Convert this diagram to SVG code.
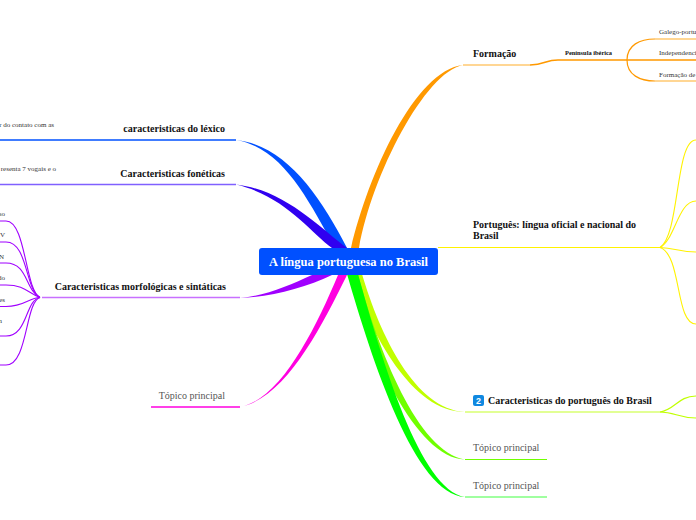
<svg xmlns="http://www.w3.org/2000/svg" width="696" height="520" viewBox="0 0 696 520">
<style>
text{font-family:"Liberation Serif","Times New Roman",serif;fill:#111}
.m{font-weight:bold;font-size:10px}
.t{font-size:10px;fill:#555}
.s{font-size:7px;fill:#333}
.b{font-weight:bold;font-size:6.4px}
.l{fill:none;stroke-width:1.2}
.h{fill:none;stroke-width:1.6}
</style>
<g id="connectors">
<path fill="#ff9900" d="M351 248C368 175 415 70 463 65C425 72 372 175 359 248Z"/>
<path class="h" stroke="#ffc870" d="M463 65H530"/>
<path class="h" stroke="#ff9900" d="M530 65C545 65 545 60 558 60H696"/>
<path class="l" stroke="#ff9900" d="M627 60C627 45 640 39 655 39"/>
<path class="h" stroke="#ffc870" d="M655 39H696"/>
<path class="l" stroke="#ff9900" d="M627 60C627 75 640 81 655 81"/>
<path class="h" stroke="#ffc870" d="M655 81H696"/>
<g fill="none" stroke="#fff200" stroke-width="1.1">
<path d="M438 247.500H660"/>
<path d="M660 247.500C680 235 675 140 696 140"/>
<path d="M660 247.500C675 240 678 201 696 201"/>
<path d="M660 247.500C675 248 680 252 696 252"/>
<path d="M660 247.500C682 255 675 324 696 324"/>
</g>
<path fill="#c0ff00" d="M350 274C372 335 412 412 465 412C415 409 380 335 362 274Z"/>
<path class="h" stroke="#d8ff70" d="M465 412H660"/>
<path class="l" stroke="#c0ff00" d="M660 412C675 410 678 396 696 396"/>
<path class="l" stroke="#c0ff00" d="M660 412C675 412 678 418 696 418"/>
<path fill="#70ff00" d="M349 274C368 350 415 458 465 459.500C418 452 378 350 358 274Z"/>
<path class="l" stroke="#70ff00" d="M465 459.500H547"/>
<path fill="#00ff00" d="M347 274C372 360 415 495 465 497C420 490 382 360 358 274Z"/>
<path class="h" stroke="#80ff80" d="M465 497H547"/>
<path fill="#0050ff" d="M347 248C320 195 285 145 236 140C283 148 308 200 335 248Z"/>
<path class="h" stroke="#0050ff" d="M0 140H236"/>
<path fill="#3000f0" d="M347 248C320 228 285 190 236 184.500C285 196 310 232 332 248Z"/>
<path class="h" stroke="#8060ff" d="M0 184.500H236"/>
<path fill="#a000ff" d="M332 275C305 288 270 297 240 298C265 296 290 285 312 275Z"/>
<path class="h" stroke="#c870ff" d="M42 297.500H240"/>
<g fill="none" stroke="#a000ff" stroke-width="1.1">
<path d="M40 297.500C25 290 26 221 6 221H0"/>
<path d="M40 297.500C25 290 28 242 6 242H0"/>
<path d="M40 297.500C25 290 28 263 6 263H0"/>
<path d="M40 297.500C28 293 25 285 6 285H0"/>
<path d="M40 297.500C28 298 25 306.500 6 306.500H0"/>
<path d="M40 297.500C25 300 28 336 6 336H0"/>
<path d="M40 297.500C25 302 28 365 6 365H0"/>
</g>
<path fill="#ff00e0" d="M338 275C315 330 280 400 240 407C285 398 320 330 347 275Z"/>
<path class="h" stroke="#ff00e0" d="M151 407H240"/>
</g>
<g id="root">
<rect x="259" y="248" width="179" height="27" rx="3" fill="#0050ff"/>
<text x="348.500" y="266" text-anchor="middle" font-size="12.500" font-weight="bold" style="fill:#fff">A língua portuguesa no Brasil</text>
</g>
<g id="formacao"><text class="m" x="473" y="57">Formação</text></g>
<g id="peninsula"><text class="b" x="565" y="55">Península ibérica</text></g>
<g id="galego"><text class="s" x="659" y="34">Galego-portu</text></g>
<g id="independencia"><text class="s" x="659" y="55">Independenci</text></g>
<g id="formacao-de"><text class="s" x="659" y="77">Formação de</text></g>
<g id="lexico"><text class="m" x="225" y="132" text-anchor="end">caracteristicas do léxico</text>
<text class="s" x="54" y="127" text-anchor="end">r do contato com as</text></g>
<g id="foneticas"><text class="m" x="225" y="177" text-anchor="end">Caracteristicas fonéticas</text>
<text class="s" x="56" y="171" text-anchor="end">resenta 7 vogais e o</text></g>
<g id="morfo"><text class="m" x="226" y="290" text-anchor="end">Caracteristicas morfológicas e sintáticas</text>
<text class="s" x="5" y="216" text-anchor="end">so</text>
<text class="s" x="5" y="237" text-anchor="end">V</text>
<text class="s" x="4" y="259" text-anchor="end">N</text>
<text class="s" x="5" y="280" text-anchor="end">do</text>
<text class="s" x="5" y="302" text-anchor="end">es</text>
<text class="s" x="2" y="323" text-anchor="end">n</text></g>
<g id="topico-esq"><text class="t" x="225" y="399" text-anchor="end">Tópico principal</text></g>
<g id="portugues"><text class="m" x="473" y="228">Português: língua oficial e nacional do</text><text class="m" x="473" y="239">Brasil</text></g>
<g id="caracteristicas"><rect x="473" y="395" width="11" height="11" rx="2" fill="#1088e0"/>
<text x="478.500" y="404" text-anchor="middle" font-size="9" font-weight="bold" style="fill:#fff;font-family:'Liberation Sans',sans-serif">2</text>
<text class="m" x="488" y="404">Caracteristicas do português do Brasil</text></g>
<g id="topico-1"><text class="t" x="473" y="451">Tópico principal</text></g>
<g id="topico-2"><text class="t" x="473" y="489">Tópico principal</text></g>
</svg>
